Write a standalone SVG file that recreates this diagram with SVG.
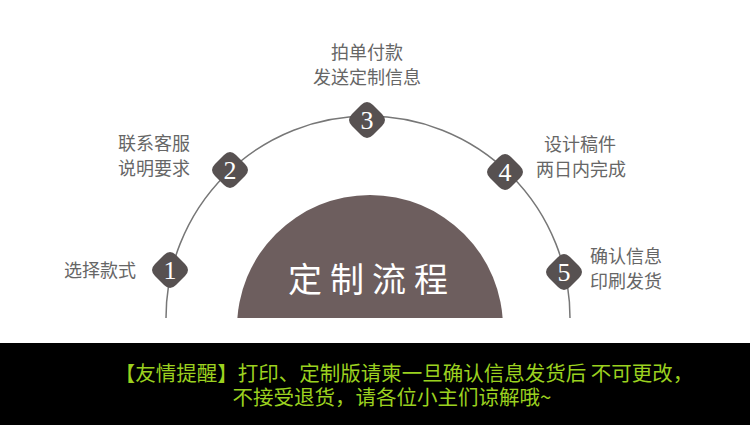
<svg xmlns="http://www.w3.org/2000/svg" width="750" height="425" viewBox="0 0 750 425">
<style>
.lbl{font-family:"Noto Sans CJK SC","Noto Sans",sans-serif;font-size:18px;fill:#666;}
.num{font-family:"Liberation Serif",serif;font-size:26px;fill:#fff;text-anchor:middle;}
.note{font-family:"Noto Sans CJK SC",sans-serif;font-size:20.5px;fill:#9bd11f;text-anchor:middle;}
</style>
<defs>
<clipPath id="cut"><rect x="0" y="0" width="750" height="318"/></clipPath>
<path id="dia" d="M-6,-15 Q0,-21 6,-15 L15,-6 Q21,0 15,6 L6,15 Q0,21 -6,15 L-15,6 Q-21,0 -15,-6 Z" fill="#575151"/>
</defs>
<rect width="750" height="425" fill="#fff"/>
<g id="connectors">
<path d="M166,318 A202,202 0 0 1 570,318" fill="none" stroke="#777" stroke-width="1.5"/>
</g>
<g id="center">
<circle cx="370" cy="328" r="133" fill="#6d5e5e" clip-path="url(#cut)"/>
<text x="372" y="292" font-family="Noto Sans CJK SC,sans-serif" font-size="34" fill="#fff" text-anchor="middle" letter-spacing="8">定制流程</text>
</g>
<g id="step1"><use href="#dia" x="170" y="270"/><text class="num" x="170" y="279">1</text><text class="lbl" x="64" y="277">选择款式</text></g>
<g id="step2"><use href="#dia" x="230" y="170"/><text class="num" x="230" y="179">2</text><text class="lbl" x="118" y="150">联系客服</text><text class="lbl" x="118" y="175">说明要求</text></g>
<g id="step3"><use href="#dia" x="367" y="120"/><text class="num" x="367" y="129">3</text><text class="lbl" x="367" y="59" text-anchor="middle">拍单付款</text><text class="lbl" x="367" y="84" text-anchor="middle">发送定制信息</text></g>
<g id="step4"><use href="#dia" x="505" y="172"/><text class="num" x="505" y="181">4</text><text class="lbl" x="544" y="151">设计稿件</text><text class="lbl" x="536" y="176">两日内完成</text></g>
<g id="step5"><use href="#dia" x="564" y="272"/><text class="num" x="564" y="281">5</text><text class="lbl" x="590" y="263">确认信息</text><text class="lbl" x="590" y="288">印刷发货</text></g>
<g id="notice">
<rect x="0" y="343" width="750" height="82" fill="#000"/>
<text class="note" x="404" y="381">【友情提醒】打印、定制版请柬一旦确认信息发货后 不可更改，</text>
<text class="note" x="392" y="405">不接受退货，请各位小主们谅解哦~</text>
</g>
</svg>
